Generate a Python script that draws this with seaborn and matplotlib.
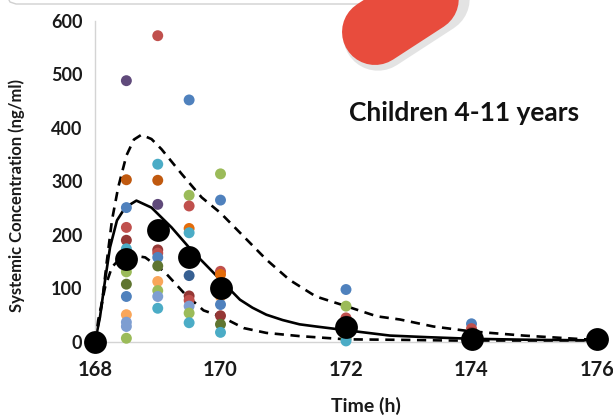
import numpy as np
import pandas as pd
import matplotlib
matplotlib.use('Agg')
import matplotlib.pyplot as plt
import seaborn as sns
from matplotlib.lines import Line2D

# observed individual concentrations (time, value, colour group)
obs_time = [168.5] * 14 + [169] * 12 + [169.5] * 11 + [170] * 9 + [172] * 8 + [174] * 4 + [176] * 2
obs_conc = [488, 303, 251, 214, 190, 174, 160, 131, 108, 85, 51, 37, 29, 7,
            572, 332, 302, 257, 172, 166, 158, 142, 113, 96, 85, 63,
            452, 274, 254, 212, 204, 124, 86, 78, 67, 54, 36,
            314, 265, 132, 126, 85, 70, 49, 33, 18,
            98, 67, 45, 39, 30, 11, 6, 2,
            34, 25, 18, 1,
            6, 4]
obs_group = ['purple', 'dkorange', 'blue', 'red', 'dkred', 'aqua', 'red', 'green', 'dkgreen', 'blue', 'ltorange', 'ltblue', 'ltblue', 'green',
             'red', 'aqua', 'dkorange', 'dkpurple', 'dkred', 'red', 'blue', 'dkgreen', 'ltorange', 'green', 'ltblue', 'aqua',
             'blue', 'green', 'red', 'orange', 'aqua', 'dkblue', 'dkred', 'red', 'ltblue', 'green', 'aqua',
             'green', 'blue', 'red', 'orange', 'ltorange', 'blue', 'dkred', 'dkgreen', 'aqua',
             'blue', 'green', 'red', 'dkred', 'orange', 'red', 'dkgreen', 'aqua',
             'blue', 'red', 'dkred', 'aqua',
             'blue', 'red']

group_colors = {
    'blue': '#4F81BD', 'red': '#C0504D', 'green': '#9BBB59', 'purple': '#604A7B',
    'dkpurple': '#5F497A', 'aqua': '#4BACC6', 'orange': '#E46C0A', 'dkorange': '#C0590F',
    'dkred': '#953735', 'dkgreen': '#5F7530', 'ltorange': '#F9A65A', 'ltblue': '#7E9ED1',
    'dkblue': '#376092',
}

# mean of observations
mean_time = [168, 168.5, 169, 169.5, 170, 172, 174, 176]
mean_conc = [0, 155, 210, 159, 101, 28, 6, 5]

# model prediction: median and 90% interval
med_time = [168.0, 168.08, 168.16, 168.24, 168.35, 168.48, 168.66, 168.9, 169.22, 169.54,
            169.75, 170.0, 170.31, 170.51, 170.73, 170.99, 171.26, 171.52, 172.0, 172.7,
            173.3, 174.0, 175.0, 176.0]
med_conc = [0, 47, 115, 177, 227, 251, 264, 251, 214, 171,
            146, 116, 79, 64, 51, 41, 33, 29, 22, 12,
            9, 6, 4, 3]

hi_time = [168.0, 168.11, 168.19, 168.27, 168.37, 168.5, 168.62, 168.74, 168.9, 169.06,
           169.38, 169.7, 170.0, 170.37, 170.73, 171.1, 171.52, 172.0, 172.49, 172.86,
           173.39, 173.98, 174.83, 175.8, 176.0]
hi_conc = [0, 71, 152, 227, 289, 348, 378, 387, 379, 360,
           314, 270, 241, 197, 154, 116, 85, 67, 48, 42,
           29, 20, 12, 5, 5]

lo_time = [168.0, 168.05, 168.16, 168.27, 168.42, 168.64, 168.8, 169.1, 169.43, 169.73,
           170.0, 170.37, 170.73, 171.26, 172.0, 172.86, 174.0, 176.0]
lo_conc = [0, 40, 102, 140, 158, 161, 158, 132, 90, 59,
           48, 26, 17, 11, 5, 4, 2, 1]

sns.set_style('white')
plt.rcParams['font.family'] = ['Lato', 'DejaVu Sans']

W, H = 613, 420
fig = plt.figure(figsize=(W / 100, H / 100), dpi=100)
ax = fig.add_axes([95 / W, 1 - 342 / H, (597 - 95) / W, (342 - 20.7) / H])

curves = pd.concat([
    pd.DataFrame({'time': med_time, 'conc': med_conc, 'curve': 'median'}),
    pd.DataFrame({'time': hi_time, 'conc': hi_conc, 'curve': 'p95'}),
    pd.DataFrame({'time': lo_time, 'conc': lo_conc, 'curve': 'p05'}),
])
sns.lineplot(data=curves, x='time', y='conc', units='curve', style='curve', estimator=None,
             sort=False, color='black', linewidth=1.9,
             dashes={'median': '', 'p95': (3.5, 2.5), 'p05': (3.5, 2.5)},
             legend=False, ax=ax, zorder=2)

obs = pd.DataFrame({'time': obs_time, 'conc': obs_conc, 'group': obs_group})
sns.scatterplot(data=obs, x='time', y='conc', hue='group', palette=group_colors,
                s=62, linewidth=0, legend=False, ax=ax, zorder=3, clip_on=False)

means = pd.DataFrame({'time': mean_time, 'conc': mean_conc})
sns.scatterplot(data=means, x='time', y='conc', color='black', s=270, linewidth=0,
                legend=False, ax=ax, zorder=4, clip_on=False)

ax.set_xlim(168, 176)
ax.set_ylim(0, 600)
ax.set_xticks([168, 170, 172, 174, 176])
ax.set_yticks(range(0, 601, 100))
for side in ['top', 'right']:
    ax.spines[side].set_visible(False)
for side in ['left', 'bottom']:
    ax.spines[side].set_color('#D4D4D4')
    ax.spines[side].set_linewidth(1.0)
ax.tick_params(axis='both', direction='out', length=4, width=1, color='#D4D4D4')
ax.tick_params(axis='y', labelsize=13, pad=5, labelcolor='#1a1a1a')
ax.tick_params(axis='x', labelsize=14.5, pad=9, labelcolor='#1a1a1a')
for lab in ax.get_xticklabels() + ax.get_yticklabels():
    lab.set_fontweight('bold')

ax.set_xlabel('Time (h)', fontsize=14, fontweight='bold', color='#1a1a1a')
ax.set_ylabel('Systemic Concentration (ng/ml)', fontsize=12, fontweight='bold', color='#1a1a1a')
ax.xaxis.set_label_coords(0.54, -0.17)
ax.yaxis.set_label_coords(-0.14, 0.455)

fig.text(464 / W, 1 - 113 / H, 'Children 4-11 years', fontsize=19, fontweight='bold',
         ha='center', va='center', color='#111111')

# decorative frame and red tab at the top
def fx(x):
    return x / W

def fy(y):
    return 1 - y / H

fig.add_artist(Line2D([fx(8), fx(10), fx(16), fx(362)], [fy(-2), fy(2), fy(4), fy(4)],
                      transform=fig.transFigure, color='#D0D0D0', lw=1.0))
ang = np.deg2rad(33)
x0, y0 = 375, 32
x1, y1 = x0 + 280 * np.cos(ang), y0 - 280 * np.sin(ang)
fig.add_artist(Line2D([fx(x0 + 3), fx(x1 + 3)], [fy(y0 + 4), fy(y1 + 4)], transform=fig.transFigure,
                      color='#B0B0B0', lw=50, alpha=0.35, solid_capstyle='round'))
fig.add_artist(Line2D([fx(x0), fx(x1)], [fy(y0), fy(y1)], transform=fig.transFigure,
                      color='#E84C3D', lw=47.5, solid_capstyle='round'))

fig.savefig('out.png', dpi=100)
